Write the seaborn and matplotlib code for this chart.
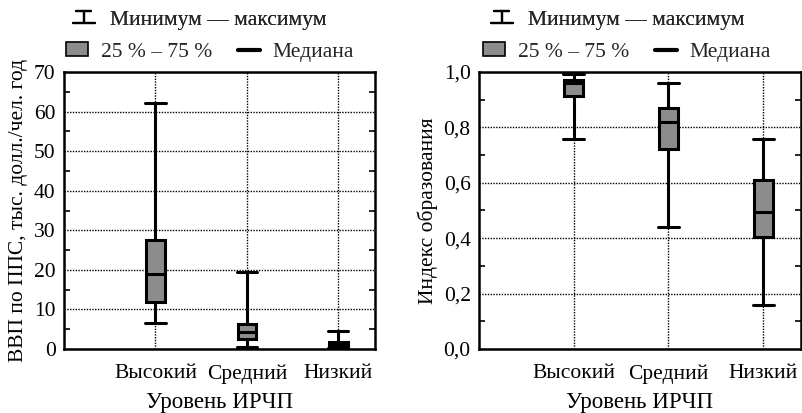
"""Два бокс-плота: ВВП по ППС и индекс образования по уровню ИРЧП."""

import matplotlib
matplotlib.use("Agg")
import matplotlib.pyplot as plt
from matplotlib.legend_handler import HandlerBase
from matplotlib.lines import Line2D
from matplotlib.patches import Patch
import numpy as np
import pandas as pd
import seaborn as sns

sns.set_theme(style="white")
plt.rcParams["font.family"] = ["Liberation Serif", "DejaVu Serif"]

# данные: мин, Q1, медиана, Q3, макс
categories = ["Высокий", "Средний", "Низкий"]

gdp_min = [6.5, 0.6, 0.3]
gdp_q1 = [12.0, 2.5, 0.4]
gdp_med = [18.9, 4.3, 1.2]
gdp_q3 = [27.5, 6.3, 1.7]
gdp_max = [62.1, 19.5, 4.5]

edu_min = [0.759, 0.439, 0.159]
edu_q1 = [0.913, 0.722, 0.405]
edu_med = [0.961, 0.821, 0.495]
edu_q3 = [0.971, 0.869, 0.610]
edu_max = [0.992, 0.961, 0.758]

BOX_COLOR = "#8c8c8c"
FS = 15.5


def to_long(mins, q1, med, q3, maxs):
    """Пять точек на категорию -> квартильные значения совпадают со статистикой."""
    rows = []
    for i, cat in enumerate(categories):
        for v in (mins[i], q1[i], med[i], q3[i], maxs[i]):
            rows.append({"level": cat, "value": v})
    return pd.DataFrame(rows)


class IBeamHandler(HandlerBase):
    """Значок «минимум — максимум»."""

    def create_artists(self, legend, orig_handle, xdescent, ydescent,
                       width, height, fontsize, trans):
        cx = -xdescent + width / 2
        y0 = -ydescent + 0.1 * height
        y1 = -ydescent + 0.9 * height
        w = width * 0.5
        kw = dict(color="black", lw=1.6, transform=trans)
        return [
            Line2D([cx, cx], [y0, y1], **kw),
            Line2D([cx - w * 0.7, cx + w * 0.7], [y1, y1], **kw),
            Line2D([cx - w, cx + w], [y0, y0], **kw),
        ]


def draw_panel(fig, rect, df, ylim, major, minor, ylabel, fmt, leg_x):
    ax = fig.add_axes(rect)
    sns.boxplot(
        data=df, x="level", y="value", order=categories, ax=ax,
        whis=(0, 100), width=0.2, color=BOX_COLOR, linecolor="black",
        linewidth=2.2, capwidths=0.22, saturation=1,
    )
    ax.set_xlim(-1.0, 2.4)
    ax.set_ylim(*ylim)
    ax.set_yticks(major)
    ax.set_yticks(minor, minor=True)
    ax.yaxis.set_major_formatter(plt.FuncFormatter(fmt))

    ax.grid(True, which="major", color="black", linestyle=(0, (1, 1)), linewidth=1)
    ax.set_axisbelow(True)
    for s in ax.spines.values():
        s.set_color("black")
        s.set_linewidth(1.8)

    ax.tick_params(axis="both", which="both", direction="in", labelsize=FS, colors="black")
    ax.tick_params(axis="y", which="major", length=0, pad=6)
    ax.tick_params(axis="y", which="minor", length=4, width=1.2, left=True, right=True)
    ax.tick_params(axis="x", length=0, pad=11)

    ax.set_xlabel("Уровень ИРЧП", fontsize=16.5, labelpad=6, color="black")
    ax.set_ylabel(ylabel, fontsize=FS, color="black")

    # легенда в две строки
    h1 = [Line2D([], [])]
    leg1 = fig.legend(h1, ["Минимум — максимум"], handler_map={Line2D: IBeamHandler()},
                      loc="center", bbox_to_anchor=(leg_x[0], 0.952), frameon=False,
                      fontsize=FS, handlelength=1.0, handletextpad=0.7)
    h2 = [Patch(facecolor=BOX_COLOR, edgecolor="black", linewidth=1.2),
          Line2D([], [], color="black", lw=3)]
    fig.legend(h2, ["25 % – 75 %", "Медиана"], ncol=2, loc="center",
               bbox_to_anchor=(leg_x[1], 0.874), frameon=False, fontsize=FS,
               handlelength=1.0, handleheight=0.6, handletextpad=0.6, columnspacing=1.2)
    fig.add_artist(leg1)
    return ax


def main():
    fig = plt.figure(figsize=(8.02, 4.13), dpi=100)

    gdp = to_long(gdp_min, gdp_q1, gdp_med, gdp_q3, gdp_max)
    edu = to_long(edu_min, edu_q1, edu_med, edu_q3, edu_max)

    draw_panel(fig, [64 / 802, 64 / 413, 311 / 802, 277 / 413], gdp,
               (0, 70), np.arange(0, 71, 10), np.arange(5, 70, 10),
               "ВВП по ППС, тыс. долл./чел. год",
               lambda v, _: f"{v:.0f}", (0.249, 0.262))
    draw_panel(fig, [479 / 802, 64 / 413, 322 / 802, 277 / 413], edu,
               (0, 1.0), np.arange(0, 1.01, 0.2), np.arange(0.1, 1.0, 0.2),
               "Индекс образования",
               lambda v, _: f"{v:.1f}".replace(".", ","), (0.770, 0.782))

    fig.savefig("out.png", dpi=100)
    plt.close(fig)


if __name__ == "__main__":
    main()
